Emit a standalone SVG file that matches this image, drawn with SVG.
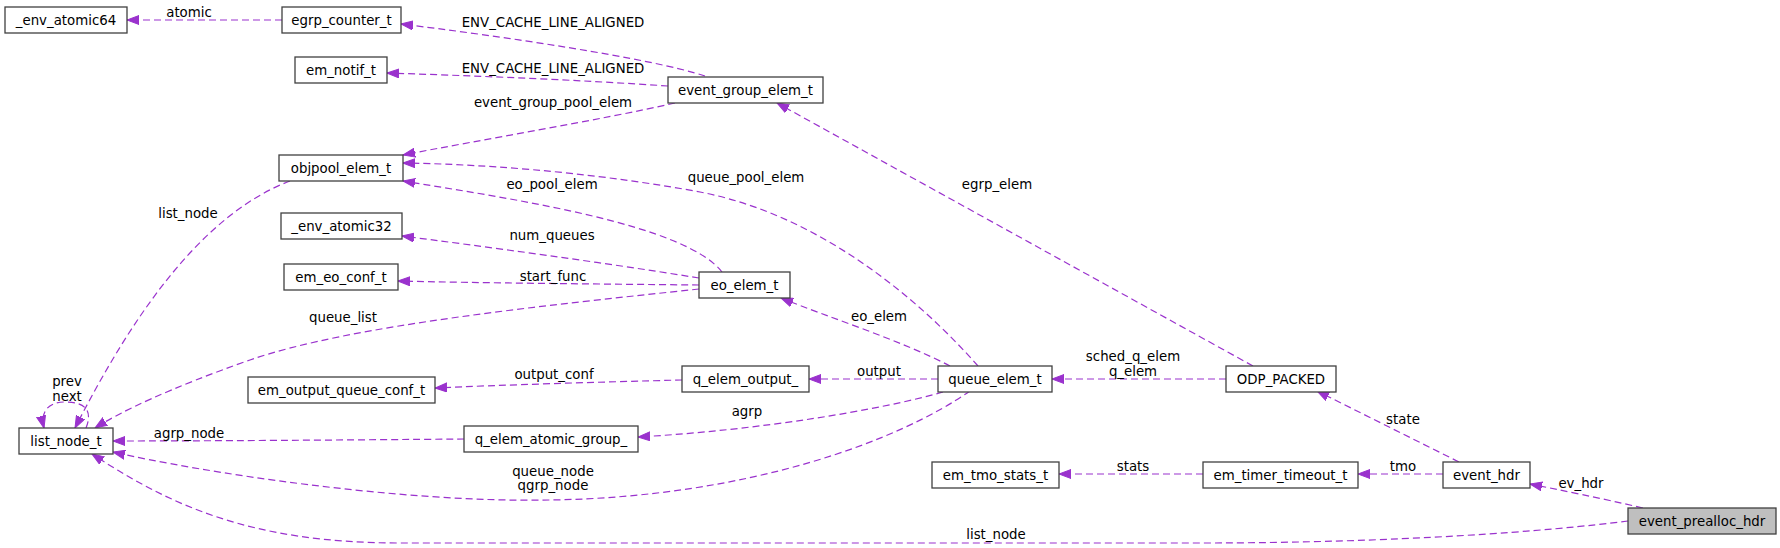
<svg xmlns="http://www.w3.org/2000/svg" width="1780" height="548" viewBox="0 0 1780 548">
<style>
.n rect{fill:#ffffff;stroke:#404040;stroke-width:1.3}
.n.h rect{fill:#bfbfbf}
.n text{font-family:"DejaVu Sans",sans-serif;font-size:13.33px;fill:#000;text-anchor:middle}
.e path{fill:none;stroke:#9a32cd;stroke-width:1.2;stroke-dasharray:7,4;marker-end:url(#ah)}
.e text{font-family:"DejaVu Sans",sans-serif;font-size:13.33px;fill:#000;text-anchor:middle}
</style>
<defs>
<marker id="ah" markerWidth="13" markerHeight="10" refX="12" refY="5" orient="auto" markerUnits="userSpaceOnUse">
<path d="M0,0.5 L12,5 L0,9.5 z" fill="#9a32cd" stroke="#9a32cd" stroke-width="1" stroke-dasharray="none"/>
</marker>
</defs>
<rect width="1780" height="548" fill="#ffffff"/>
<g id="edges" class="e">
<path d="M282,20 L127,20"/><text x="189" y="17">atomic</text>
<path d="M705,76 C650,58 500,36 401,24"/><text x="553" y="27">ENV_CACHE_LINE_ALIGNED</text>
<path d="M668,86 C580,80 480,76 387,73"/><text x="553" y="73">ENV_CACHE_LINE_ALIGNED</text>
<path d="M675,103 C600,120 480,140 403,155"/><text x="553" y="107">event_group_pool_elem</text>
<path d="M722,272 C685,225 520,200 403,181"/><text x="552" y="189">eo_pool_elem</text>
<path d="M978,366 C920,300 820,215 700,192 C580,170 470,164 403,163"/><text x="746" y="182">queue_pool_elem</text>
<path d="M699,278 C600,262 480,246 402,236"/><text x="552" y="240">num_queues</text>
<path d="M699,285 C600,284 480,283 398,281"/><text x="553" y="281">start_func</text>
<path d="M699,289 C550,305 350,325 250,360 C170,388 120,412 95,428"/><text x="343" y="322">queue_list</text>
<path d="M290,181 C200,215 130,320 75,428"/><text x="188" y="218">list_node</text>
<path d="M86,428 C94,408 82,402 65,402 C48,402 40,412 44,428"/><text x="67" y="386">prev</text><text x="67" y="401">next</text>
<path d="M464,439 C350,440 200,441 113,441"/><text x="189" y="438">agrp_node</text>
<path d="M682,380 C600,382 500,385 435,388"/><text x="554" y="379">output_conf</text>
<path d="M950,366 C900,340 830,318 781,298"/><text x="879" y="321">eo_elem</text>
<path d="M938,379 L809,379"/><text x="879" y="376">output</text>
<path d="M943,392 C880,410 760,430 638,437"/><text x="747" y="416">agrp</text>
<path d="M970,391 C900,440 750,497 550,500 C400,503 200,472 113,452"/><text x="553" y="476">queue_node</text><text x="553" y="490">qgrp_node</text>
<path d="M1628,521 C1550,531 1400,543 1200,543 L400,543 C250,543 170,505 92,454"/><text x="996" y="539">list_node</text>
<path d="M1226,379 L1052,379"/><text x="1133" y="361">sched_q_elem</text><text x="1133" y="376">q_elem</text>
<path d="M1253,366 L777,103"/><text x="997" y="189">egrp_elem</text>
<path d="M1459,462 L1317,391"/><text x="1403" y="424">state</text>
<path d="M1443,474 L1358,474"/><text x="1403" y="471">tmo</text>
<path d="M1203,474 L1059,474"/><text x="1133" y="471">stats</text>
<path d="M1643,508 C1600,498 1560,490 1530,484"/><text x="1581" y="488">ev_hdr</text>
</g>
<g id="n_env_atomic64" class="n"><rect x="5" y="7" width="122" height="26"/><text x="66" y="24.5">_env_atomic64</text></g>
<g id="n_egrp_counter_t" class="n"><rect x="282" y="7" width="119" height="26"/><text x="341.5" y="24.5">egrp_counter_t</text></g>
<g id="n_em_notif_t" class="n"><rect x="295" y="57" width="92" height="26"/><text x="341" y="74.5">em_notif_t</text></g>
<g id="n_event_group_elem_t" class="n"><rect x="668" y="77" width="155" height="26"/><text x="745.5" y="94.5">event_group_elem_t</text></g>
<g id="n_objpool_elem_t" class="n"><rect x="279" y="155" width="124" height="26"/><text x="341" y="172.5">objpool_elem_t</text></g>
<g id="n_env_atomic32" class="n"><rect x="281" y="213" width="121" height="26"/><text x="341.5" y="230.5">_env_atomic32</text></g>
<g id="n_em_eo_conf_t" class="n"><rect x="284" y="264" width="114" height="26"/><text x="341" y="281.5">em_eo_conf_t</text></g>
<g id="n_eo_elem_t" class="n"><rect x="699" y="272" width="91" height="26"/><text x="744.5" y="289.5">eo_elem_t</text></g>
<g id="n_em_output_queue_conf_t" class="n"><rect x="248" y="377" width="187" height="26"/><text x="341.5" y="394.5">em_output_queue_conf_t</text></g>
<g id="n_q_elem_output_" class="n"><rect x="682" y="366" width="127" height="26"/><text x="745.5" y="383.5">q_elem_output_</text></g>
<g id="n_queue_elem_t" class="n"><rect x="938" y="366" width="114" height="26"/><text x="995" y="383.5">queue_elem_t</text></g>
<g id="n_ODP_PACKED" class="n"><rect x="1226" y="366" width="110" height="26"/><text x="1281" y="383.5">ODP_PACKED</text></g>
<g id="n_q_elem_atomic_group_" class="n"><rect x="464" y="426" width="174" height="26"/><text x="551" y="443.5">q_elem_atomic_group_</text></g>
<g id="n_list_node_t" class="n"><rect x="19" y="428" width="94" height="26"/><text x="66" y="445.5">list_node_t</text></g>
<g id="n_em_tmo_stats_t" class="n"><rect x="932" y="462" width="127" height="26"/><text x="995.5" y="479.5">em_tmo_stats_t</text></g>
<g id="n_em_timer_timeout_t" class="n"><rect x="1203" y="462" width="155" height="26"/><text x="1280.5" y="479.5">em_timer_timeout_t</text></g>
<g id="n_event_hdr" class="n"><rect x="1443" y="462" width="87" height="26"/><text x="1486.5" y="479.5">event_hdr</text></g>
<g id="n_event_prealloc_hdr" class="n h"><rect x="1628" y="508" width="148" height="26"/><text x="1702" y="525.5">event_prealloc_hdr</text></g>
</svg>
